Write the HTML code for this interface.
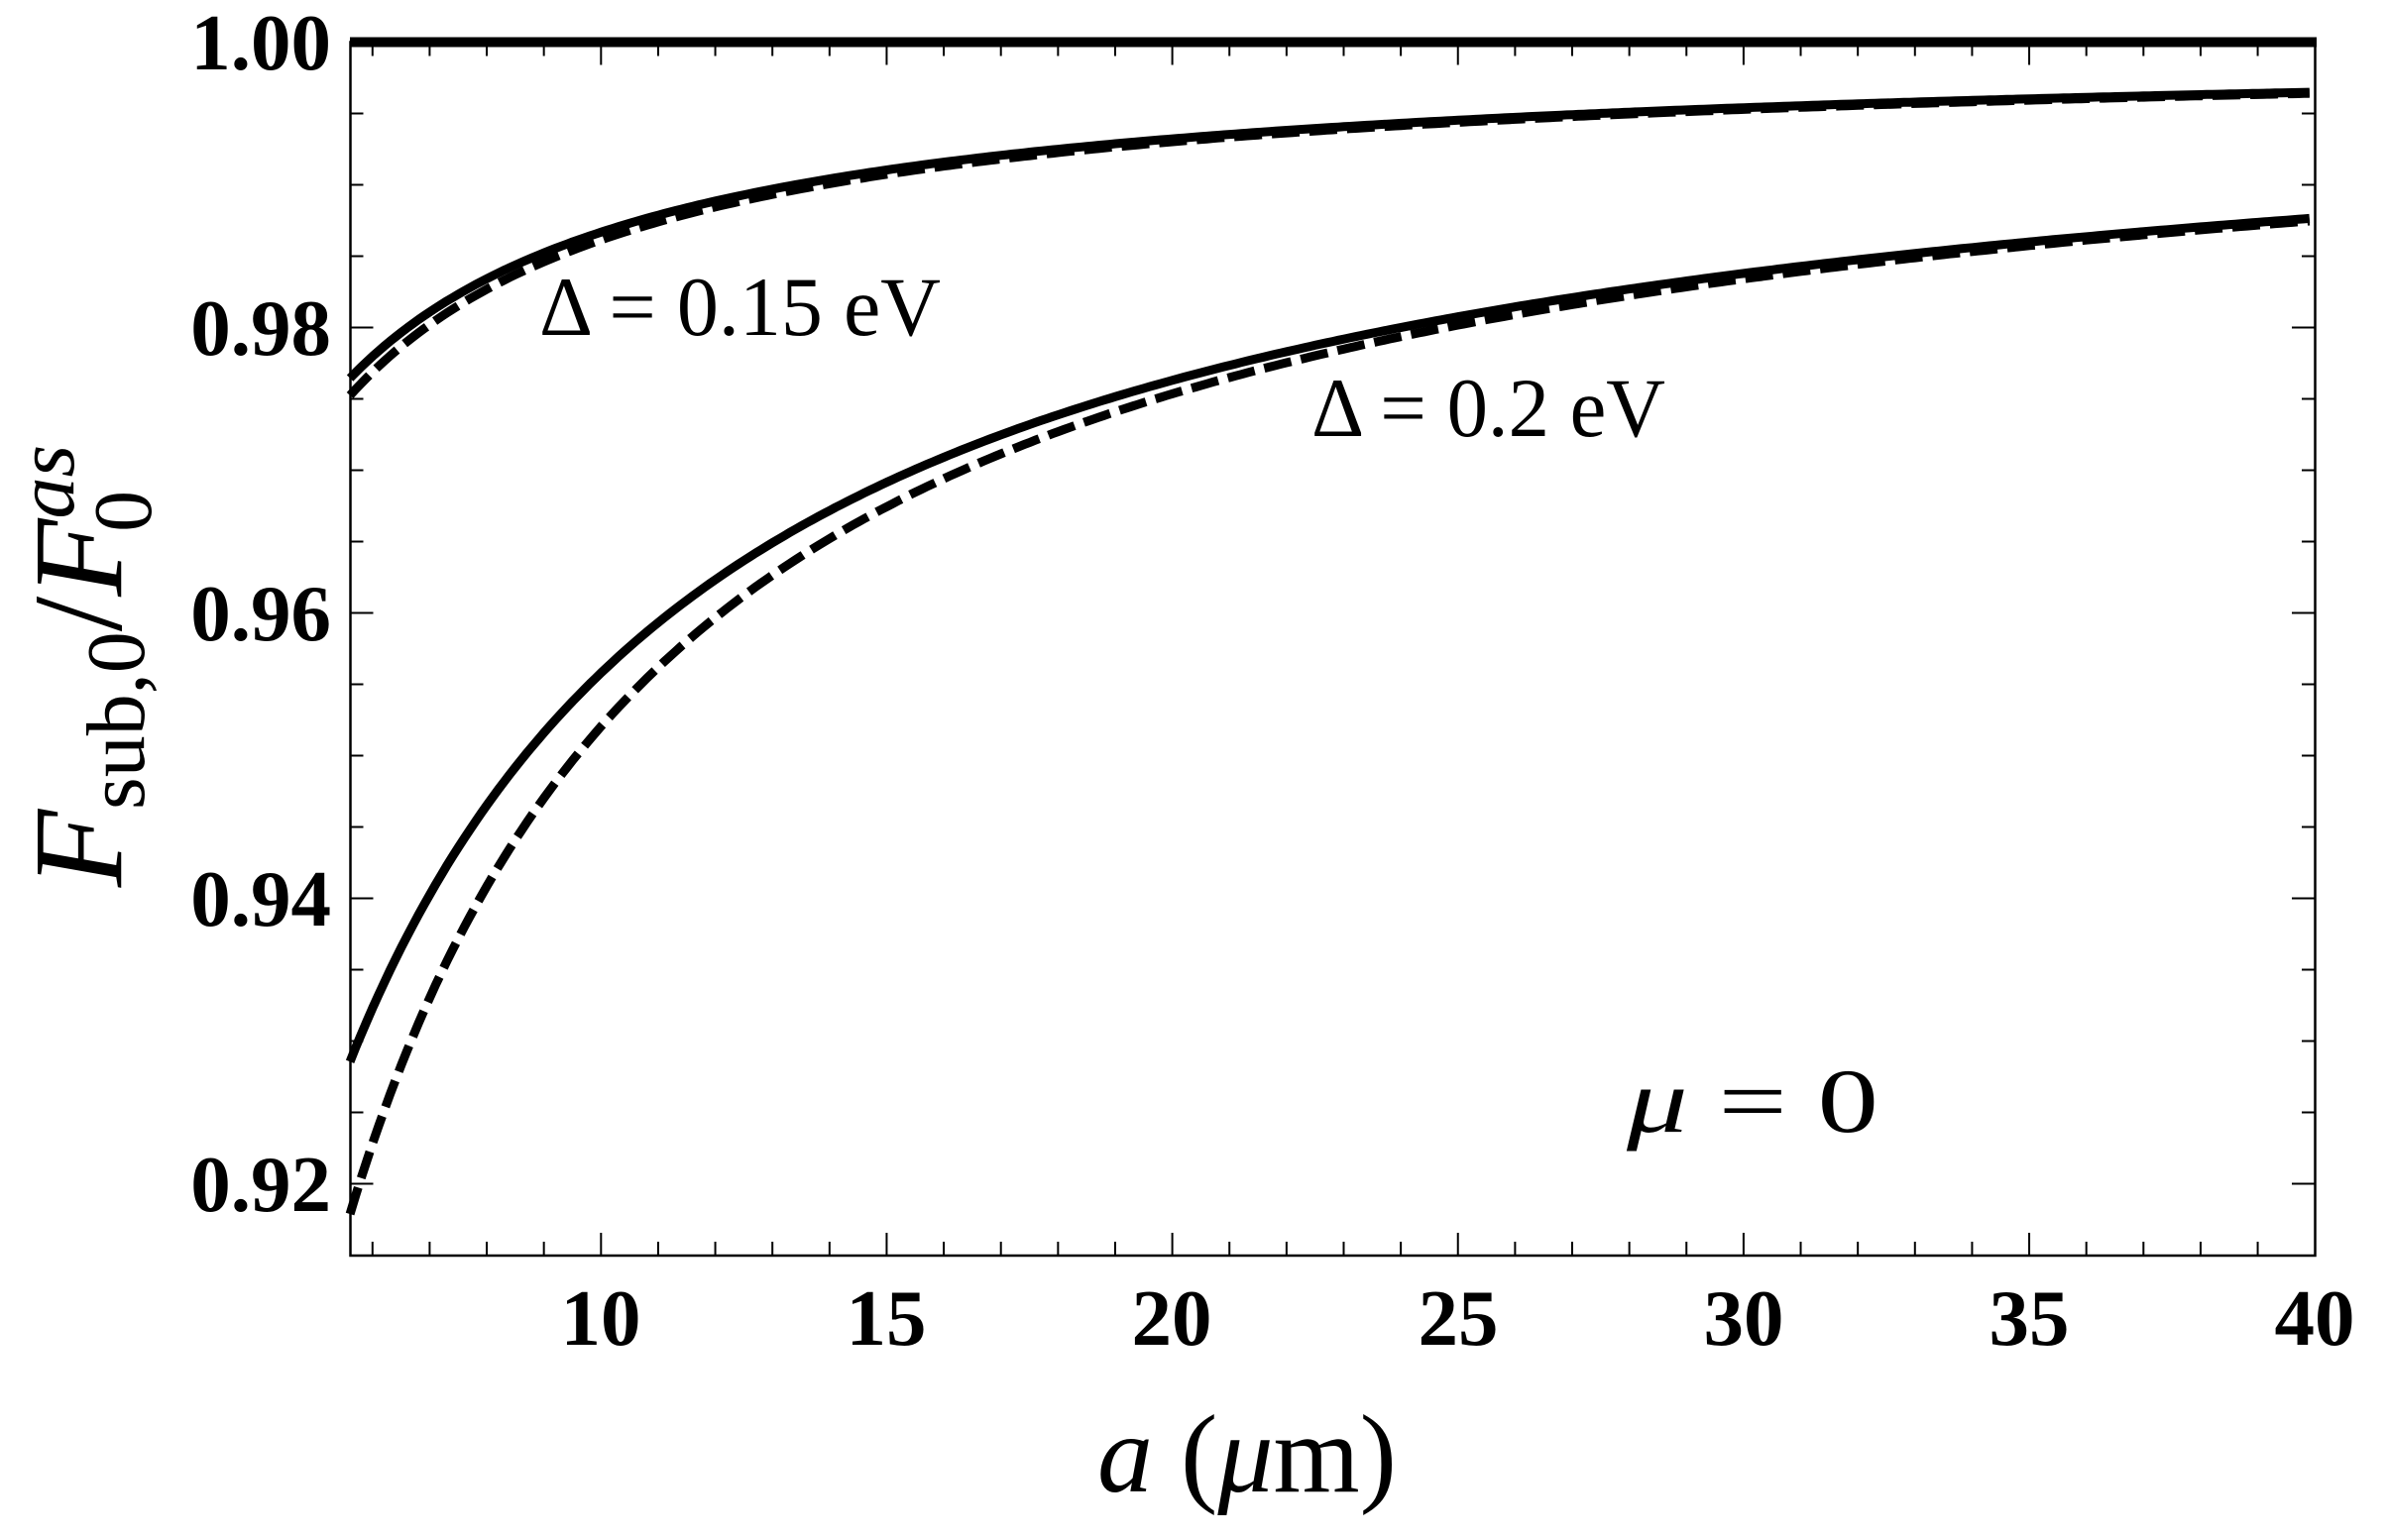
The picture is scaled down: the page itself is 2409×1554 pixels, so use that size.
<!DOCTYPE html>
<html><head><meta charset="utf-8"><style>
html,body{margin:0;padding:0;background:#fff;}
svg{display:block;}
text{font-family:"Liberation Serif",serif;fill:#000;}
</style></head><body>
<svg id="s" width="2409" height="1554" viewBox="0 0 2409 1554" xmlns="http://www.w3.org/2000/svg">
<rect width="2409" height="1554" fill="#fff"/>
<g id="ticks" stroke="#000" stroke-width="2"></g>
<rect x="353.5" y="42.5" width="1982" height="1224.5" fill="none" stroke="#000" stroke-width="2.5"/>
<line x1="353" y1="42.5" x2="2337" y2="42.5" stroke="#000" stroke-width="10"/>
<g id="curves" fill="none" stroke="#000" stroke-width="9" stroke-linejoin="round"></g>
<g font-weight="bold" font-size="81" text-anchor="middle">
<text x="606" y="1357">10</text><text x="894" y="1357">15</text><text x="1182" y="1357">20</text>
<text x="1471" y="1357">25</text><text x="1759" y="1357">30</text><text x="2047" y="1357">35</text><text x="2335" y="1357">40</text>
</g>
<g font-weight="bold" font-size="81" text-anchor="end">
<text x="334" y="70">1.00</text><text x="334" y="358">0.98</text><text x="334" y="646">0.96</text>
<text x="334" y="934">0.94</text><text x="334" y="1222">0.92</text>
</g>
<text x="544" y="338" font-size="85" textLength="405" lengthAdjust="spacingAndGlyphs">Δ = 0.15 eV</text>
<text x="1323" y="440" font-size="85" textLength="357" lengthAdjust="spacingAndGlyphs">Δ = 0.2 eV</text>
<text x="1641" y="1142" font-size="92" textLength="254" lengthAdjust="spacingAndGlyphs"><tspan font-style="italic">μ</tspan> = 0</text>
<text x="1258" y="1505" font-size="112" text-anchor="middle"><tspan font-style="italic">a</tspan> (<tspan font-style="italic">μ</tspan>m)</text>
<text transform="translate(122,672) rotate(-90)" font-size="128" text-anchor="middle"><tspan font-style="italic">F</tspan><tspan font-size="84" dy="23">sub,0</tspan><tspan dy="-23">/</tspan><tspan font-style="italic">F</tspan><tspan font-size="84" dy="-48" font-style="italic">as</tspan><tspan font-size="84" dx="-88" dy="78">0</tspan></text>
</svg>
<script>
var X=function(a){return 606.3+(a-10)*57.63;};
var Y=function(v){return 42.5+(1-v)*14400;};
var ns="http://www.w3.org/2000/svg";
var tg=document.getElementById('ticks');
function ln(x1,y1,x2,y2){var l=document.createElementNS(ns,'line');l.setAttribute('x1',x1);l.setAttribute('y1',y1);l.setAttribute('x2',x2);l.setAttribute('y2',y2);tg.appendChild(l);}
for(var a=6;a<=39;a++){var x=X(a);var L=(a%5==0)?23:14;ln(x,1267,x,1267-L);ln(x,42.5,x,42.5+L);}
for(var k=1;k<=16;k++){var v=1-k*0.005;var y=Y(v);var L=(k%4==0)?23:13;ln(353.5,y,353.5+L,y);ln(2335,y,2335-L,y);}
var cg=document.getElementById('curves');
function curve(f,dash){var p=[];for(var a=5.606;a<=40.001;a+=0.1){p.push(X(a).toFixed(1)+','+Y(1-f(a)).toFixed(1));}
var pl=document.createElementNS(ns,'polyline');pl.setAttribute('points',p.join(' '));if(dash)pl.setAttribute('stroke-dasharray','28 10');cg.appendChild(pl);}
curve(function(a){return 0.131/(a+0.012)+0.000233;},false);
curve(function(a){return 0.131/(a+0.012)+0.000233+0.0135/Math.pow(a,1.4);},true);
curve(function(a){return 0.5076/(a+1.509)+0.0001;},false);
curve(function(a){return 0.5061/(a+0.559)+0.00003;},true);
</script>
</body></html>
